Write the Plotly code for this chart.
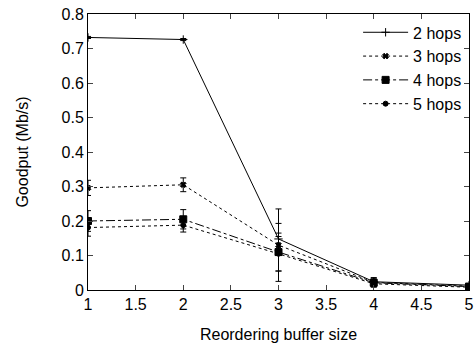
import plotly.graph_objects as go

x = [1, 2, 3, 4, 5]
series_names = ["2 hops", "3 hops", "4 hops", "5 hops"]
hops2 = [0.732, 0.726, 0.148, 0.024, 0.014]
hops2_err = [0.003, 0.003, 0.045, 0.012, 0.004]
hops3 = [0.296, 0.305, 0.130, 0.022, 0.011]
hops3_err = [0.022, 0.020, 0.105, 0.012, 0.004]
hops4 = [0.200, 0.205, 0.110, 0.021, 0.010]
hops4_err = [0.030, 0.028, 0.055, 0.010, 0.004]
hops5 = [0.181, 0.188, 0.105, 0.018, 0.008]
hops5_err = [0.025, 0.020, 0.050, 0.010, 0.004]

ys = [hops2, hops3, hops4, hops5]
errs = [hops2_err, hops3_err, hops4_err, hops5_err]
dashes = ["solid", "dot", "dashdot", "dot"]
symbols = ["cross-thin", "x", "square", "circle"]
sizes = [6, 5, 7, 5]

fig = go.Figure()
for name, y, e, d, s, sz in zip(series_names, ys, errs, dashes, symbols, sizes):
    fig.add_trace(go.Scatter(
        x=x, y=y, name=name, mode="lines+markers",
        line=dict(color="black", width=1, dash=d),
        marker=dict(symbol=s, size=sz, color="black",
                    line=dict(color="black", width=1)),
        error_y=dict(type="data", array=e, visible=True, color="black",
                     thickness=1, width=3),
    ))

fig.update_layout(
    width=476, height=343,
    margin=dict(l=88, r=7, t=14, b=53),
    paper_bgcolor="white", plot_bgcolor="white",
    font=dict(family="Liberation Sans, Arial, sans-serif", size=16, color="black"),
    showlegend=True,
    legend=dict(x=0.995, y=0.995, xanchor="right", yanchor="top",
                bgcolor="rgba(0,0,0,0)", font=dict(size=16),
                tracegroupgap=0, itemwidth=45),
)
fig.update_xaxes(
    range=[1, 5], tickmode="linear", tick0=1, dtick=0.5, automargin=False,
    ticks="inside", ticklen=5, mirror="ticks", showline=True,
    linecolor="black", linewidth=1, showgrid=False, zeroline=False,
    title=dict(text="Reordering buffer size", font=dict(size=16), standoff=18),
    tickfont=dict(size=16),
)
fig.update_yaxes(
    range=[0, 0.8], tickmode="linear", tick0=0, dtick=0.1, automargin=False,
    ticks="inside", ticklen=5, mirror="ticks", showline=True,
    linecolor="black", linewidth=1, showgrid=False, zeroline=False,
    title=dict(text="Goodput (Mb/s)", font=dict(size=16), standoff=28),
    tickfont=dict(size=16),
)

fig.write_html("out.html")
